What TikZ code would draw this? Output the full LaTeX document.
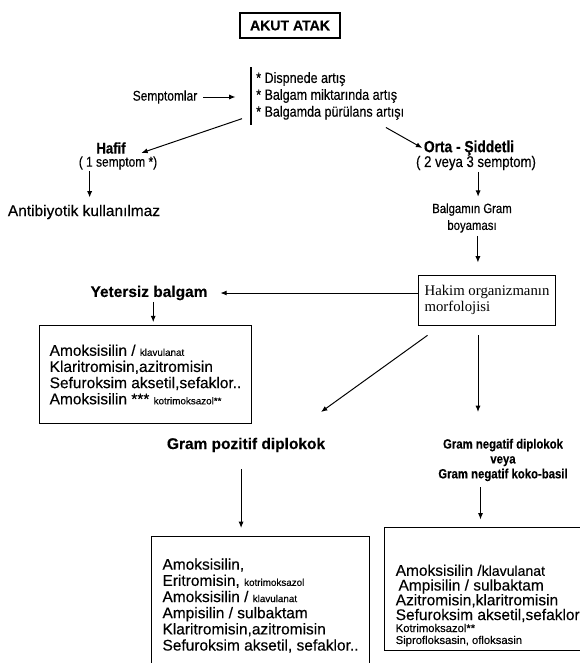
\documentclass[tikz,border=0pt]{standalone}
\usepackage{fontspec}
\setmainfont{Liberation Sans}[FakeBold=0.3]
\newfontfamily\morphfont{Liberation Serif}
\newfontfamily\narrowsans{Liberation Sans}[FakeStretch=0.85,FakeBold=0.3]
\usetikzlibrary{arrows.meta}
\tikzset{
    titlebox/.style={
        draw,
        line width=1.1pt,
        font=\fontsize{10}{12}\selectfont\bfseries,
        minimum width=2.5cm,
        minimum height=0.63cm
    },
    headline/.style={
        font=\fontsize{11}{13}\selectfont\bfseries,
        inner sep=1pt
    },
    branchline/.style={
        font=\narrowsans\fontsize{11}{13}\selectfont\bfseries,
        inner sep=1pt
    },
    noteline/.style={
        font=\narrowsans\fontsize{10}{12}\selectfont,
        align=center,
        inner sep=1pt
    },
    plainline/.style={
        font=\fontsize{11}{13}\selectfont,
        inner sep=1pt
    },
    morphbox/.style={
        draw,
        line width=0.7pt,
        align=left,
        font=\morphfont\fontsize{10.5}{11.5}\selectfont,
        minimum width=3.4cm,
        minimum height=1.25cm
    },
    drugbox/.style={
        draw,
        line width=0.7pt,
        anchor=north west,
        align=left,
        font=\fontsize{11}{11.5}\selectfont
    },
    flow/.style={
        line width=0.7pt,
        -{Latex[length=4.5pt,width=3.6pt]}
    }
}
\newcommand{\smalldrug}[1]{{\fontsize{7}{9}\selectfont #1}}
\newcommand{\minorline}[1]{{\fontsize{8}{9}\selectfont #1}}

\begin{document}
\begin{tikzpicture}[x=0.025cm,y=-0.025cm]
    \useasboundingbox (0,0) rectangle (579,663);

    %% Title
    \node (akut) [titlebox] at (290,25.5) {AKUT ATAK};

    %% Symptoms
    \node (symp) [noteline,font=\narrowsans\fontsize{10.5}{12}\selectfont,align=left,anchor=west,inner xsep=3.5pt,inner ysep=3.3pt]
        at (251,96) {* Dispnede artış\\* Balgam miktarında artış\\* Balgamda pürülans artışı};
    \draw[line width=0.9pt] (symp.north west) -- (symp.south west);
    \node (semptom) [noteline] at (165,97) {Semptomlar};
    \draw[flow,shorten <=3pt,shorten >=11pt] (semptom.east) -- (symp.west |- semptom.east);

    %% Hafif
    \node (hafif) [branchline] at (111,148) {Hafif};
    \node (hafifnote) [noteline] at (118,163) {( 1 semptom *)};
    \draw[flow] ([shift={(-6.4pt,4.3pt)}]symp.south west) -- ([shift={(10pt,-3.5pt)}]hafif.east);
    \node (antib) [plainline] at (84,212) {Antibiyotik kullanılmaz};
    \draw[flow,shorten >=4pt] ([xshift=4pt]antib.north |- hafifnote.south) -- ([xshift=4pt]antib.north);

    %% Orta - Siddetli
    \node (orta) [branchline,font=\narrowsans\fontsize{11.5}{13}\selectfont\bfseries] at (469,148) {Orta - Şiddetli};
    \node (ortanote) [noteline,font=\narrowsans\fontsize{11}{12}\selectfont] at (476,163) {( 2 veya 3 semptom)};
    \draw[flow] ([shift={(39.7pt,-2pt)}]symp.south) -- (orta.west);
    \node (balgam) [noteline,font=\narrowsans\fontsize{9.5}{12}\selectfont] at (472,218) {Balgamın Gram\\boyaması};
    \draw[flow,shorten >=3.5pt] ([xshift=1.5pt]ortanote.south) -- ([xshift=1.5pt]ortanote.south |- balgam.north);

    %% Hakim organizma
    \node (hakim) [morphbox] at (487,300) {Hakim organizmanın\\morfolojisi};
    \draw[flow,shorten <=1pt,shorten >=8.5pt] ([xshift=4.2pt]balgam.south) -- ([xshift=4.2pt]balgam.south |- hakim.north);

    %% Yetersiz balgam
    \node (yeter) [headline] at (149,293) {Yetersiz balgam};
    \draw[flow,shorten >=8pt] (hakim.west |- yeter) -- (yeter.east);
    \node (firstbox) [drugbox,minimum width=5.3cm,minimum height=2.45cm] at (39,325)
        {Amoksisilin / \smalldrug{klavulanat}\\Klaritromisin,azitromisin\\Sefuroksim aksetil,sefaklor..\\Amoksisilin *** \smalldrug{kotrimoksazol**}};
    \draw[flow,shorten >=2pt] ([xshift=3pt]yeter.south) -- ([xshift=3pt]yeter.south |- firstbox.north);

    %% Gram boyama sonucu
    \coordinate (posend) at (321,412);
    \coordinate (negend) at (478,412);
    \draw[flow] ([shift={(6.4pt,-7pt)}]hakim.south west) -- (posend);
    \draw[flow,shorten <=7pt] (negend |- hakim.south) -- (negend);
    \node (grampos) [headline] at (246,445) {Gram pozitif diplokok};
    \node (gramneg) [noteline,font=\narrowsans\fontsize{9.5}{10.6}\selectfont\bfseries] at (503,460)
        {Gram negatif diplokok\\veya\\Gram negatif koko-basil};

    %% Tedavi
    \node (posbox) [drugbox,minimum width=5.45cm,minimum height=3.45cm] at (151,536)
        {Amoksisilin,\\Eritromisin, \smalldrug{kotrimoksazol}\\Amoksisilin / \smalldrug{klavulanat}\\Ampisilin / sulbaktam\\Klaritromisin,azitromisin\\Sefuroksim aksetil, sefaklor..};
    \node (negbox) [drugbox,anchor=south west,inner ysep=3pt,inner xsep=8pt,font=\fontsize{11}{10.5}\selectfont] at (384,651)
        {\rule{0pt}{31pt}Amoksisilin /{\fontsize{10}{10.5}\selectfont klavulanat}\\\hspace{2pt}Ampisilin / sulbaktam\\Azitromisin,klaritromisin\\Sefuroksim aksetil,sefaklor\\[-2pt]\minorline{Kotrimoksazol**}\\[-2pt]\minorline{Siprofloksasin, ofloksasin}};
    \draw[flow,shorten <=11pt,shorten >=5.7pt] ([xshift=-3.5pt]grampos.south) -- ([xshift=-3.5pt]grampos.south |- posbox.north);
    \draw[flow,shorten <=3pt,shorten >=5.7pt] ([xshift=-16pt]gramneg.south) -- ([xshift=-16pt]gramneg.south |- negbox.north);
\end{tikzpicture}
\end{document}
